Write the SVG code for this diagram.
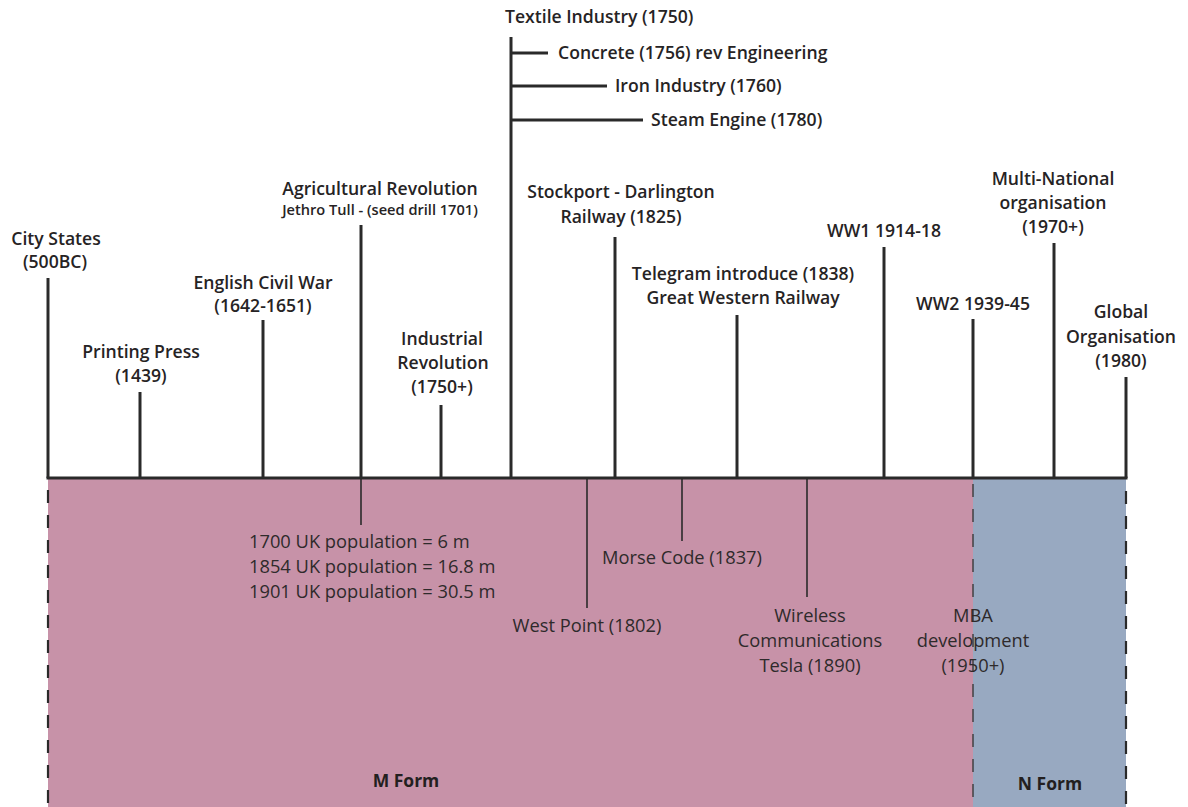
<svg xmlns="http://www.w3.org/2000/svg" width="1188" height="807" viewBox="0 0 1188 807">
  <style>
    .top { font-family: "Open Sans", "Liberation Sans", sans-serif; font-size: 17.6px; font-weight: 600; fill: #262324; text-anchor: middle; }
    .small { font-size: 14.6px; }
    .low { font-family: "Open Sans", "Liberation Sans", sans-serif; font-size: 18.3px; font-weight: 400; fill: #2e2a2b; text-anchor: middle; }
    .form { font-family: "Open Sans", "Liberation Sans", sans-serif; font-size: 17.5px; font-weight: 700; fill: #231f20; text-anchor: middle; }
    .start { text-anchor: start; }
    .tick { stroke: #2a2a2a; stroke-width: 3; fill: none; }
    .thin { stroke: #2a2a2a; stroke-width: 1.6; fill: none; }
    .dash { stroke: #2a2a2a; stroke-width: 2.2; stroke-dasharray: 13 12; fill: none; }
    .dash-thin { stroke: #3a3a3a; stroke-width: 1.4; stroke-dasharray: 13 12; fill: none; }
  </style>

  <rect width="1188" height="807" fill="#ffffff"/>

  <!-- era bands -->
  <g id="bands">
    <rect id="m-form-band" x="48" y="479" width="925" height="328" fill="#c792a8"/>
    <rect id="n-form-band" x="973" y="479" width="153" height="328" fill="#98a9c1"/>
  </g>

  <!-- axis, ticks and branch lines -->
  <g id="connectors">
    <line class="tick" x1="46.5" y1="478" x2="1127.5" y2="478"/>
    <line class="dash" x1="48" y1="490" x2="48" y2="807"/>
    <line class="dash" x1="1126" y1="491" x2="1126" y2="807"/>
    <line class="dash-thin" x1="973" y1="479" x2="973" y2="807" stroke-dashoffset="-5"/>

    <line class="tick" x1="48" y1="278" x2="48" y2="478"/>
    <line class="tick" x1="140" y1="392" x2="140" y2="478"/>
    <line class="tick" x1="263" y1="320" x2="263" y2="478"/>
    <line class="tick" x1="361" y1="225" x2="361" y2="478"/>
    <line class="tick" x1="441" y1="405" x2="441" y2="478"/>
    <line class="tick" x1="511" y1="37" x2="511" y2="478"/>
    <line class="tick" x1="511" y1="53" x2="548" y2="53"/>
    <line class="tick" x1="511" y1="86" x2="607" y2="86"/>
    <line class="tick" x1="511" y1="120" x2="643" y2="120"/>
    <line class="tick" x1="615" y1="237" x2="615" y2="478"/>
    <line class="tick" x1="737" y1="315" x2="737" y2="478"/>
    <line class="tick" x1="884" y1="247" x2="884" y2="478"/>
    <line class="tick" x1="973" y1="319" x2="973" y2="478"/>
    <line class="tick" x1="1054" y1="243" x2="1054" y2="478"/>
    <line class="tick" x1="1126" y1="377" x2="1126" y2="478"/>

    <line class="thin" x1="361" y1="478" x2="361" y2="525"/>
    <line class="thin" x1="587" y1="478" x2="587" y2="608"/>
    <line class="thin" x1="682" y1="478" x2="682" y2="541"/>
    <line class="thin" x1="807" y1="478" x2="807" y2="597"/>
  </g>

  <!-- events above the axis -->
  <g id="city-states"><text class="top" x="56" y="245">City States</text><text class="top" x="55" y="268">(500BC)</text></g>
  <g id="printing-press"><text class="top" x="141" y="358">Printing Press</text><text class="top" x="141" y="382">(1439)</text></g>
  <g id="civil-war"><text class="top" x="263" y="289">English Civil War</text><text class="top" x="263" y="312">(1642-1651)</text></g>
  <g id="agricultural"><text class="top" x="380" y="195">Agricultural Revolution</text><text class="top small" x="380" y="215">Jethro Tull - (seed drill 1701)</text></g>
  <g id="industrial"><text class="top" x="442" y="345">Industrial</text><text class="top" x="443" y="369">Revolution</text><text class="top" x="442" y="393">(1750+)</text></g>
  <g id="textile"><text class="top start" x="505" y="23">Textile Industry (1750)</text></g>
  <g id="concrete"><text class="top start" x="558" y="59">Concrete (1756) rev Engineering</text></g>
  <g id="iron"><text class="top start" x="615" y="92">Iron Industry (1760)</text></g>
  <g id="steam"><text class="top start" x="651" y="126">Steam Engine (1780)</text></g>
  <g id="stockport"><text class="top" x="621" y="198">Stockport - Darlington</text><text class="top" x="621" y="223">Railway (1825)</text></g>
  <g id="telegram"><text class="top" x="743" y="280">Telegram introduce (1838)</text><text class="top" x="743" y="304">Great Western Railway</text></g>
  <g id="ww1"><text class="top" x="884" y="237">WW1 1914-18</text></g>
  <g id="ww2"><text class="top" x="973" y="310">WW2 1939-45</text></g>
  <g id="multinational"><text class="top" x="1053" y="185">Multi-National</text><text class="top" x="1053" y="209">organisation</text><text class="top" x="1053" y="233">(1970+)</text></g>
  <g id="global"><text class="top" x="1121" y="318">Global</text><text class="top" x="1121" y="343">Organisation</text><text class="top" x="1121" y="367">(1980)</text></g>

  <!-- events below the axis -->
  <g id="population">
    <text class="low start" x="249" y="548">1700 UK population = 6 m</text>
    <text class="low start" x="249" y="573">1854 UK population = 16.8 m</text>
    <text class="low start" x="249" y="598">1901 UK population = 30.5 m</text>
  </g>
  <g id="west-point"><text class="low" x="587" y="632">West Point (1802)</text></g>
  <g id="morse"><text class="low" x="682" y="564">Morse Code (1837)</text></g>
  <g id="wireless"><text class="low" x="810" y="622">Wireless</text><text class="low" x="810" y="647">Communications</text><text class="low" x="810" y="672">Tesla (1890)</text></g>
  <g id="mba"><text class="low" x="973" y="622">MBA</text><text class="low" x="973" y="647">development</text><text class="low" x="973" y="672">(1950+)</text></g>

  <!-- band labels -->
  <g id="m-form"><text class="form" x="406" y="787">M Form</text></g>
  <g id="n-form"><text class="form" x="1050" y="790">N Form</text></g>
</svg>
